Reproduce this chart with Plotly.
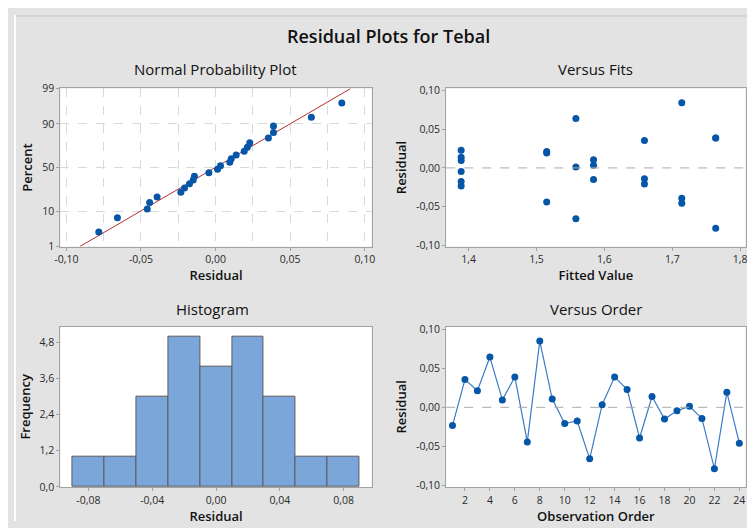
import plotly.graph_objects as go
from statistics import NormalDist
import numpy as np

# ---------------- data ----------------
order = list(range(1, 25))
residuals = [-0.0233, 0.0354, 0.0213, 0.0642, 0.0095, 0.0388, -0.0442, 0.0846,
             0.0105, -0.0208, -0.0175, -0.0658, 0.0033, 0.0388, 0.0229, -0.0392,
             0.0138, -0.0150, -0.0045, 0.0013, -0.0142, -0.0783, 0.0192, -0.0458]
fitted = [1.389, 1.659, 1.515, 1.558, 1.389, 1.764, 1.515, 1.714,
          1.584, 1.659, 1.389, 1.558, 1.584, 1.764, 1.389, 1.714,
          1.389, 1.584, 1.389, 1.558, 1.659, 1.764, 1.515, 1.714]

npp_xticks = [-0.10, -0.05, 0.00, 0.05, 0.10]
npp_xtext = ["-0,10", "-0,05", "0,00", "0,05", "0,10"]
npp_xgrid = [-0.075, -0.025, 0.025, 0.075]
npp_pct_ticks = [1, 10, 50, 90, 99]
npp_pct_text = ["1", "10", "50", "90", "99"]

fit_xticks = [1.4, 1.5, 1.6, 1.7, 1.8]
fit_xtext = ["1,4", "1,5", "1,6", "1,7", "1,8"]
res_yticks = [-0.10, -0.05, 0.00, 0.05, 0.10]
res_ytext = ["-0,10", "-0,05", "0,00", "0,05", "0,10"]

hist_xticks = [-0.08, -0.04, 0.00, 0.04, 0.08]
hist_xtext = ["-0,08", "-0,04", "0,00", "0,04", "0,08"]
hist_yticks = [0.0, 1.2, 2.4, 3.6, 4.8]
hist_ytext = ["0,0", "1,2", "2,4", "3,6", "4,8"]

ord_xticks = list(range(2, 25, 2))

# ---------------- derived ----------------
nd = NormalDist()
n = len(residuals)
sorted_res = sorted(residuals)
pos = [(i - 0.3) / (n + 0.4) for i in range(1, n + 1)]
z_pts = [nd.inv_cdf(p) for p in pos]
mu = float(np.mean(residuals))
sd = float(np.std(residuals, ddof=1))
zlo, zhi = nd.inv_cdf(0.01), nd.inv_cdf(0.99)
line_z = [zlo, zhi]
line_x = [mu + sd * zz for zz in line_z]
pct_z = [nd.inv_cdf(p / 100) for p in npp_pct_ticks]

# ---------------- styling ----------------
OFF = 8  # page body margin
W, H = 755 - OFF, 528 - OFF
FONT = "Open Sans"
BG = "#E3E3E3"
BLUE = "#0656A8"
FRAME = "#A3A3A3"
TICKC = "#2b2b2b"

def px(x):
    return (x - OFF) / W

def py(y):
    return 1 - (y - OFF) / H

LX = [px(55), px(370)]
RX = [px(445.5), px(748.5)]
TY = [py(246), py(83.5)]
BY = [py(493), py(328.3)]

fig = go.Figure()

# Normal probability plot
fig.add_trace(go.Scatter(x=line_x, y=line_z, mode="lines",
                         line=dict(color="#B5302E", width=1), xaxis="x", yaxis="y",
                         hoverinfo="skip"))
fig.add_trace(go.Scatter(x=sorted_res, y=z_pts, mode="markers",
                         marker=dict(color=BLUE, size=7), xaxis="x", yaxis="y"))

# Versus fits
fig.add_trace(go.Scatter(x=fitted, y=residuals, mode="markers",
                         marker=dict(color=BLUE, size=7), xaxis="x2", yaxis="y2"))

# Histogram
fig.add_trace(go.Histogram(x=residuals, xbins=dict(start=-0.09, end=0.09, size=0.02),
                           marker=dict(color="#7BA6D9", line=dict(color="#5C5C5C", width=1)),
                           xaxis="x3", yaxis="y3"))

# Versus order
fig.add_trace(go.Scatter(x=order, y=residuals, mode="lines+markers",
                         line=dict(color="#3C7BC6", width=1.2),
                         marker=dict(color=BLUE, size=7), xaxis="x4", yaxis="y4"))

common_ax = dict(showline=True, linecolor=FRAME, linewidth=1, mirror=True,
                 ticks="outside", ticklen=3, tickcolor=FRAME,
                 tickfont=dict(family=FONT, size=10.5, color=TICKC),
                 zeroline=False, showgrid=False)
title_font = dict(family=FONT, size=13, color="#111111", weight=600)

fig.update_layout(
    width=W, height=H, margin=dict(l=0, r=0, t=0, b=0),
    paper_bgcolor=BG, plot_bgcolor="white", showlegend=False, bargap=0,
    font=dict(family=FONT),
    xaxis=dict(domain=LX, anchor="y", range=[-0.104, 0.1046], tickmode="array",
               tickvals=npp_xticks, ticktext=npp_xtext,
               title=dict(text="Residual", font=title_font, standoff=1),
               minor=dict(tickmode="array", tickvals=npp_xticks + npp_xgrid, ticklen=0,
                          showgrid=True, gridcolor="#D9D9D9", griddash="dash", gridwidth=1),
               **common_ax),
    yaxis=dict(domain=TY, anchor="x", range=[zlo, zhi], tickmode="array",
               tickvals=pct_z, ticktext=npp_pct_text,
               title=dict(text="Percent", font=title_font, standoff=6),
               minor=dict(tickmode="array", tickvals=pct_z, ticklen=0,
                          showgrid=True, gridcolor="#D9D9D9", griddash="dash", gridwidth=1),
               **common_ax),
    xaxis2=dict(domain=RX, anchor="y2", range=[1.367, 1.808], tickmode="array",
                tickvals=fit_xticks, ticktext=fit_xtext,
                title=dict(text="Fitted Value", font=title_font, standoff=1), **common_ax),
    yaxis2=dict(domain=TY, anchor="x2", range=[-0.102, 0.103], tickmode="array",
                tickvals=res_yticks, ticktext=res_ytext,
                title=dict(text="Residual", font=title_font, standoff=6), **common_ax),
    xaxis3=dict(domain=LX, anchor="y3", range=[-0.0975, 0.0975], tickmode="array",
                tickvals=hist_xticks, ticktext=hist_xtext,
                title=dict(text="Residual", font=title_font, standoff=1), **common_ax),
    yaxis3=dict(domain=BY, anchor="x3", range=[0, 5.32], tickmode="array",
                tickvals=hist_yticks, ticktext=hist_ytext,
                title=dict(text="Frequency", font=title_font, standoff=6), **common_ax),
    xaxis4=dict(domain=RX, anchor="y4", range=[0.5, 24.5], tickmode="array",
                tickvals=ord_xticks, ticktext=[str(v) for v in ord_xticks],
                title=dict(text="Observation Order", font=title_font, standoff=1), **common_ax),
    yaxis4=dict(domain=BY, anchor="x4", range=[-0.1017, 0.103], tickmode="array",
                tickvals=res_yticks, ticktext=res_ytext,
                title=dict(text="Residual", font=title_font, standoff=6), **common_ax),
)

# thin extra white strip on the left and the top separator line
fig.add_shape(type="rect", xref="paper", yref="paper", x0=0, x1=px(10), y0=0, y1=1,
              fillcolor="white", line=dict(width=0), layer="below")
fig.add_shape(type="line", xref="paper", yref="paper", x0=px(10), x1=1, y0=py(9), y1=py(9),
              line=dict(color="#C8C8C8", width=1))

# zero reference lines
for xr, yr in [("x2 domain", "y2"), ("x4 domain", "y4")]:
    fig.add_shape(type="line", xref=xr, yref=yr, x0=0, x1=1, y0=0, y1=0,
                  line=dict(color="#AAAAAA", width=1, dash="dash"))

# titles
fig.add_annotation(text="Residual Plots for Tebal", x=px(387), y=py(30), xref="paper", yref="paper",
                   showarrow=False, font=dict(family=FONT, size=18, color="#111111", weight=600),
                   xanchor="center", yanchor="middle")
for txt, cx, cy in [("Normal Probability Plot", 212, 63), ("Versus Fits", 597, 63),
                    ("Histogram", 209, 310), ("Versus Order", 597, 310)]:
    fig.add_annotation(text=txt, x=px(cx), y=py(cy), xref="paper", yref="paper",
                       showarrow=False, font=dict(family=FONT, size=15, color="#111111", weight=500),
                       xanchor="center", yanchor="middle")

fig.write_html("out.html")
